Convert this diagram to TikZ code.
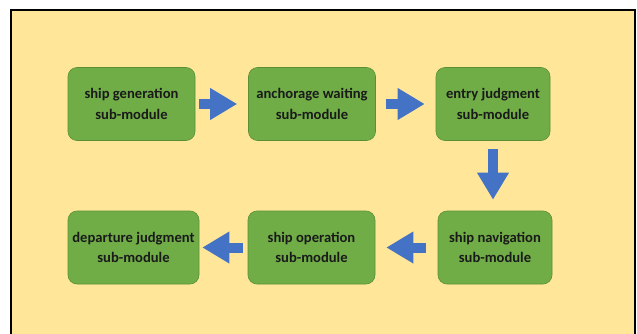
\documentclass[tikz,border=0pt]{standalone}
\usepackage{fontspec}
\setmainfont{Carlito}
\usetikzlibrary{arrows.meta}
\definecolor{panelyellow}{HTML}{FFE699}
\definecolor{modgreen}{HTML}{70AD47}
\definecolor{modedge}{HTML}{5A8F38}
\definecolor{flowblue}{HTML}{4472C4}
\definecolor{modtext}{HTML}{1A1A1A}
\begin{document}
\begin{tikzpicture}[x=1pt,y=1pt,
    module/.style={fill=modgreen,draw=modedge,line width=.6pt,rounded corners=9pt,
        minimum width=127pt,minimum height=73pt,align=center,text=modtext,
        font=\fontsize{14.6}{20.5}\selectfont\bfseries,inner sep=0pt},
    flow/.style={draw=flowblue,line width=10pt,-{Triangle[width=30pt,length=27pt]}}]
    \useasboundingbox (0,0) rectangle (637,333);
    \clip (0,0) rectangle (637,333);
    \draw[fill=panelyellow,line width=2pt] (10.5,322.5) rectangle (634.5,-10);
    % first row
    \node[module] (gen) at (131.5,229) {ship generation\\sub-module};
    \node[module] (anchor) at (312,229) {anchorage waiting\\sub-module};
    \node[module,minimum width=114pt] (entry) at (493,229) {entry judgment\\sub-module};
    % second row
    \node[module,minimum width=114pt] (nav) at (495,85.5) {ship navigation\\sub-module};
    \node[module] (oper) at (311.5,85.5) {ship operation\\sub-module};
    \node[module,minimum width=131pt] (depart) at (133.5,85.5) {departure judgment\\sub-module};
    % arrows
    \draw[flow] ([xshift=4pt]gen.east) -- ([xshift=-11pt]anchor.west);
    \draw[flow] ([xshift=10pt]anchor.east) -- ([xshift=-11pt]entry.west);
    \draw[flow] ([yshift=-8pt]entry.south) -- ([yshift=11pt]entry.south |- nav.north);
    \draw[flow] ([xshift=-12pt]nav.west) -- ([xshift=11pt]oper.east);
    \draw[flow] ([xshift=-5pt]oper.west) -- ([xshift=3pt]depart.east);
\end{tikzpicture}
\end{document}
